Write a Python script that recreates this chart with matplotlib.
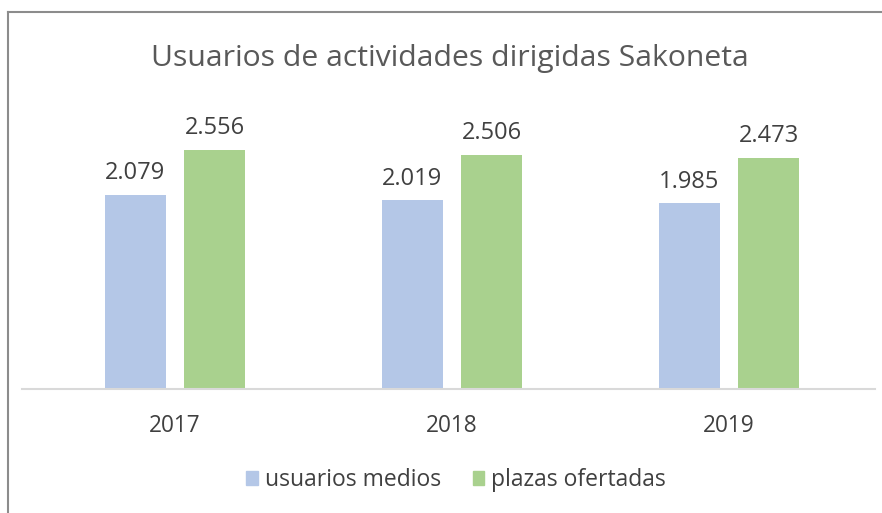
import matplotlib
matplotlib.use("Agg")
import matplotlib.pyplot as plt
from matplotlib.lines import Line2D
from matplotlib.patches import Patch
import numpy as np

years = ["2017", "2018", "2019"]
usuarios = [2079, 2019, 1985]
plazas = [2556, 2506, 2473]
labels = ["usuarios medios", "plazas ofertadas"]

blue = "#b4c7e7"
green = "#a9d18e"
txt = "#404040"

plt.rcParams["font.family"] = ["Open Sans", "DejaVu Sans"]

fig = plt.figure(figsize=(8.82, 5.13), dpi=100)
W, H = 882, 513
ax = fig.add_axes([22 / W, 1 - 389 / H, (875 - 22) / W, (389 - 108.5) / H])

x = np.arange(len(years))
w = 0.22
off = 0.143
b1 = ax.bar(x - off, usuarios, w, color=blue)
b2 = ax.bar(x + off, plazas, w, color=green)
ax.bar_label(b1, labels=[f"{v/1000:.3f}" for v in usuarios], padding=7, fontsize=17, color=txt)
ax.bar_label(b2, labels=[f"{v/1000:.3f}" for v in plazas], padding=7, fontsize=17, color=txt)

ax.set_xlim(-0.552, 2.527)
ax.set_ylim(0, 3000)
ax.set_yticks([])
ax.set_xticks(x, years)
ax.tick_params(axis="x", length=0, pad=18, labelsize=16.3, labelcolor=txt)
for s in ["top", "right", "left"]:
    ax.spines[s].set_visible(False)
ax.spines["bottom"].set_color("#d9d9d9")
ax.spines["bottom"].set_linewidth(1.5)

fig.text(450 / W, 1 - 59 / H, "Usuarios de actividades dirigidas Sakoneta",
         ha="center", va="center", fontsize=21.7, color="#595959")

handles = [Patch(color=blue), Patch(color=green)]
fig.legend(handles, labels, loc="center", bbox_to_anchor=(456 / W, 1 - 480 / H),
           ncol=2, frameon=False, fontsize=16.5, handlelength=0.5, handleheight=0.6,
           handletextpad=0.3, columnspacing=1.4, labelcolor=txt)

# chart frame (left and top edges visible)
fig.add_artist(Line2D([8 / W, 8 / W], [0, 1 - 12 / H], color="#8c8c8c", lw=1.5))
fig.add_artist(Line2D([8 / W, 1], [1 - 12 / H, 1 - 12 / H], color="#8c8c8c", lw=1.5))

fig.savefig("out.png", dpi=100)
